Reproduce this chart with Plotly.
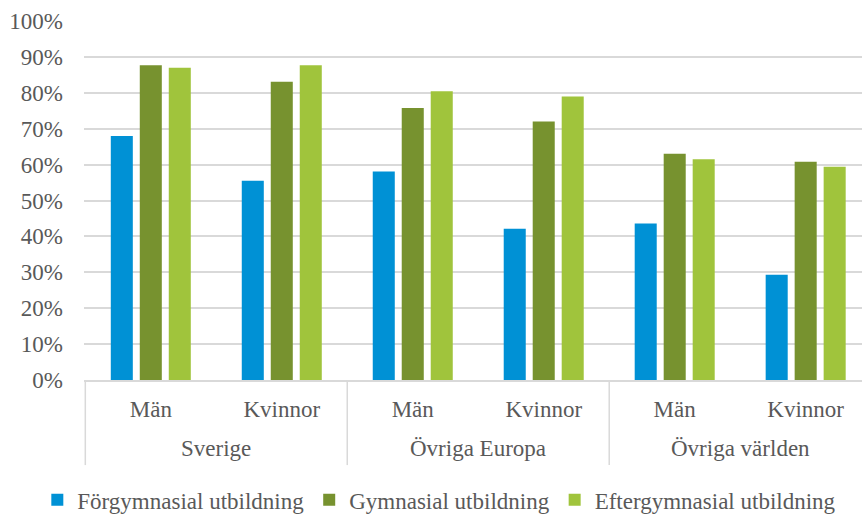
import plotly.graph_objects as go

groups = ["Sverige", "Sverige", "Övriga Europa", "Övriga Europa", "Övriga världen", "Övriga världen"]
subs = ["Män", "Kvinnor", "Män", "Kvinnor", "Män", "Kvinnor"]

series_names = ["Förgymnasial utbildning", "Gymnasial utbildning", "Eftergymnasial utbildning"]
forgymnasial = [0.680, 0.555, 0.581, 0.421, 0.436, 0.293]
gymnasial = [0.877, 0.831, 0.758, 0.720, 0.630, 0.608]
eftergymnasial = [0.870, 0.877, 0.804, 0.790, 0.615, 0.594]
colors = ["#0091D5", "#77922F", "#A0C43C"]

FONT = "Liberation Serif"
TXT = "#595959"
GRID = "#D9D9D9"

pos = list(range(len(subs)))

fig = go.Figure()
for name, vals, col in zip(series_names, [forgymnasial, gymnasial, eftergymnasial], colors):
    fig.add_trace(go.Bar(x=pos, y=vals, name=name,
                         marker=dict(color=col, line=dict(width=0))))

# group labels and dividers derived from the category order
group_order = []
for g in groups:
    if g not in group_order:
        group_order.append(g)
for g in group_order:
    idx = [i for i, gg in enumerate(groups) if gg == g]
    center = (idx[0] + idx[-1]) / 2
    fig.add_annotation(x=center, y=-0.192, xref="x", yref="paper", text=g,
                       showarrow=False, xanchor="center", yanchor="middle",
                       font=dict(family=FONT, size=23, color=TXT))
    fig.add_shape(type="line", xref="x", yref="paper", x0=idx[0] - 0.5, x1=idx[0] - 0.5,
                  y0=0, y1=-0.237, line=dict(color=GRID, width=1.5))

fig.update_layout(
    width=862, height=517,
    margin=dict(l=84, r=0, t=21, b=137, autoexpand=False),
    paper_bgcolor="white", plot_bgcolor="white",
    barmode="group", bargap=0.336, bargroupgap=0.24,
    font=dict(family=FONT, size=23, color=TXT),
    showlegend=True,
    legend=dict(orientation="h", x=-0.06, xanchor="left", y=-0.334, yanchor="middle",
                font=dict(family=FONT, size=23, color=TXT),
                itemwidth=30, tracegroupgap=0, bgcolor="rgba(0,0,0,0)"),
)
fig.update_yaxes(range=[0, 1], dtick=0.1, tickformat=".0%", automargin=False,
                 showgrid=True, gridcolor=GRID, gridwidth=1.5,
                 zeroline=False, showline=False, ticks="", ticklabelstandoff=20,
                 tickfont=dict(family=FONT, size=23, color=TXT))
fig.update_xaxes(range=[-0.51, 5.43], automargin=False,
                 tickmode="array", tickvals=pos, ticktext=subs,
                 showline=True, linecolor=GRID, linewidth=1.5,
                 ticks="", showgrid=False, zeroline=False, ticklabelstandoff=8,
                 tickfont=dict(family=FONT, size=23, color=TXT))

fig.write_html("out.html", config={"displayModeBar": False},
               post_script="document.body.style.margin='0';")
